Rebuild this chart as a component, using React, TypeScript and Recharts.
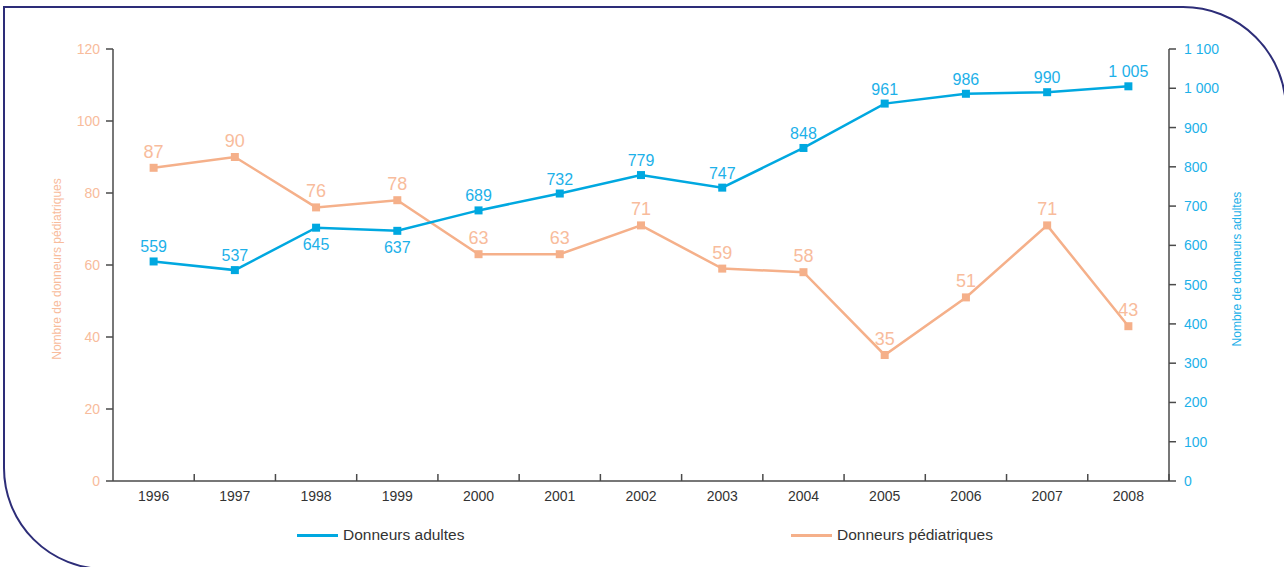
import React from 'react';
import { LineChart, Line, XAxis, YAxis, LabelList } from 'recharts';

const years = ['1996', '1997', '1998', '1999', '2000', '2001', '2002', '2003', '2004', '2005', '2006', '2007', '2008'];
const adultes = [559, 537, 645, 637, 689, 732, 779, 747, 848, 961, 986, 990, 1005];
const pediatriques = [87, 90, 76, 78, 63, 63, 71, 59, 58, 35, 51, 71, 43];
const leftTicks = [0, 20, 40, 60, 80, 100, 120];
const rightTicks = [0, 100, 200, 300, 400, 500, 600, 700, 800, 900, 1000, 1100];
const adultLabelsBelow = ['1998', '1999'];
const seriesNames = { adultes: 'Donneurs adultes', pediatriques: 'Donneurs pédiatriques' };
const axisTitles = { left: 'Nombre de donneurs pédiatriques', right: 'Nombre de donneurs adultes' };

const W = 1284;
const H = 567;
const LEFT_W = 113;
const RIGHT_W = 115;
const PLOT_W = W - LEFT_W - RIGHT_W;
const BAND = PLOT_W / years.length;

const BLUE = '#00a8e0';
const SALMON = '#f5b08a';
const BLUE_TXT = '#1db1e9';
const SALMON_TXT = '#f8bc9c';
const AXIS = '#4a4a4a';
const FONT = '"Liberation Sans", Arial, sans-serif';

const data = years.map((y, i) => ({ year: y, adultes: adultes[i], pediatriques: pediatriques[i] }));

const fmt = (v: number) =>
  v >= 1000 ? `${Math.floor(v / 1000)} ${String(v % 1000).padStart(3, '0')}` : String(v);

const XTick = (props: any) => {
  const { x, y, payload } = props;
  return (
    <g>
      <line x1={x + BAND / 2} x2={x + BAND / 2} y1={y - 7} y2={y} stroke={AXIS} strokeWidth={1.5} />
      <text x={x} y={y + 20} textAnchor="middle" fill="#333" fontSize={14} fontFamily={FONT}>
        {payload.value}
      </text>
    </g>
  );
};

const SquareDot = (color: string) => (props: any) => {
  const { cx, cy, index } = props;
  if (cx == null || cy == null) return <g key={index} />;
  return <rect key={index} x={cx - 4} y={cy - 4} width={8} height={8} fill={color} />;
};

const AdultLabel = (props: any) => {
  const { x, y, value, index } = props;
  const below = adultLabelsBelow.includes(years[index]);
  return (
    <text
      x={x}
      y={below ? y + 22 : y - 9}
      textAnchor="middle"
      fill={BLUE_TXT}
      fontSize={16}
      fontFamily={FONT}
    >
      {fmt(value)}
    </text>
  );
};

const PedLabel = (props: any) => {
  const { x, y, value } = props;
  return (
    <text x={x} y={y - 10} textAnchor="middle" fill={SALMON_TXT} fontSize={18} fontFamily={FONT}>
      {value}
    </text>
  );
};

const AxisTitle = (text: string, color: string, dx: number) => (props: any) => {
  const vb = props.viewBox || {};
  const cx = vb.x + vb.width / 2 + dx;
  const cy = 269;
  return (
    <text
      x={cx}
      y={cy}
      transform={`rotate(-90 ${cx} ${cy})`}
      textAnchor="middle"
      dominantBaseline="central"
      fill={color}
      fontSize={12}
      fontFamily={FONT}
    >
      {text}
    </text>
  );
};

const LegendItem = ({ left, color, label }: { left: number; color: string; label: string }) => (
  <div style={{ position: 'absolute', left, top: 526, display: 'flex', alignItems: 'center' }}>
    <div style={{ width: 41, height: 3, background: color, marginRight: 5 }} />
    <span style={{ fontFamily: FONT, fontSize: 15.5, color: '#333', lineHeight: '18px' }}>{label}</span>
  </div>
);

export default function App() {
  return (
    <div style={{ position: 'fixed', left: 0, top: 0, width: W, height: H, overflow: 'hidden', background: '#fff' }}>
      <div
        style={{
          position: 'absolute',
          left: 3,
          top: 6,
          width: 1284,
          height: 564,
          boxSizing: 'border-box',
          border: '2px solid #2d2d78',
          borderTopRightRadius: 104,
          borderBottomLeftRadius: 102,
        }}
      />
      <div style={{ position: 'absolute', left: 0, top: 0 }}>
        <LineChart
          width={W}
          height={H}
          data={data}
          margin={{ top: 49, right: 0, bottom: 56, left: 0 }}
          style={{ fontFamily: FONT }}
        >
          <XAxis
            dataKey="year"
            height={30}
            interval={0}
            padding={{ left: BAND / 2, right: BAND / 2 }}
            tickLine={false}
            tickSize={0}
            tickMargin={0}
            axisLine={{ stroke: AXIS, strokeWidth: 1.5 }}
            tick={<XTick />}
          />
          <YAxis
            yAxisId="left"
            orientation="left"
            width={LEFT_W}
            domain={[0, 120]}
            ticks={leftTicks}
            interval={0}
            tickSize={7}
            tickMargin={6}
            axisLine={{ stroke: AXIS, strokeWidth: 1.5 }}
            tickLine={{ stroke: AXIS, strokeWidth: 1.5 }}
            tick={{ fill: SALMON_TXT, fontSize: 14, fontFamily: FONT }}
            label={{ content: AxisTitle(axisTitles.left, SALMON_TXT, 0) }}
          />
          <YAxis
            yAxisId="right"
            orientation="right"
            width={RIGHT_W}
            domain={[0, 1100]}
            ticks={rightTicks}
            interval={0}
            tickSize={7}
            tickMargin={8}
            tickFormatter={fmt}
            axisLine={{ stroke: AXIS, strokeWidth: 1.5 }}
            tickLine={{ stroke: AXIS, strokeWidth: 1.5 }}
            tick={{ fill: BLUE_TXT, fontSize: 14, fontFamily: FONT }}
            label={{ content: AxisTitle(axisTitles.right, BLUE_TXT, 10) }}
          />
          <Line
            yAxisId="left"
            type="linear"
            dataKey="pediatriques"
            stroke={SALMON}
            strokeWidth={2.5}
            dot={SquareDot(SALMON)}
            activeDot={false}
            isAnimationActive={false}
          >
            <LabelList dataKey="pediatriques" content={PedLabel} />
          </Line>
          <Line
            yAxisId="right"
            type="linear"
            dataKey="adultes"
            stroke={BLUE}
            strokeWidth={2.5}
            dot={SquareDot(BLUE)}
            activeDot={false}
            isAnimationActive={false}
          >
            <LabelList dataKey="adultes" content={AdultLabel} />
          </Line>
        </LineChart>
      </div>
      <LegendItem left={297} color={BLUE} label={seriesNames.adultes} />
      <LegendItem left={791} color={SALMON} label={seriesNames.pediatriques} />
    </div>
  );
}
